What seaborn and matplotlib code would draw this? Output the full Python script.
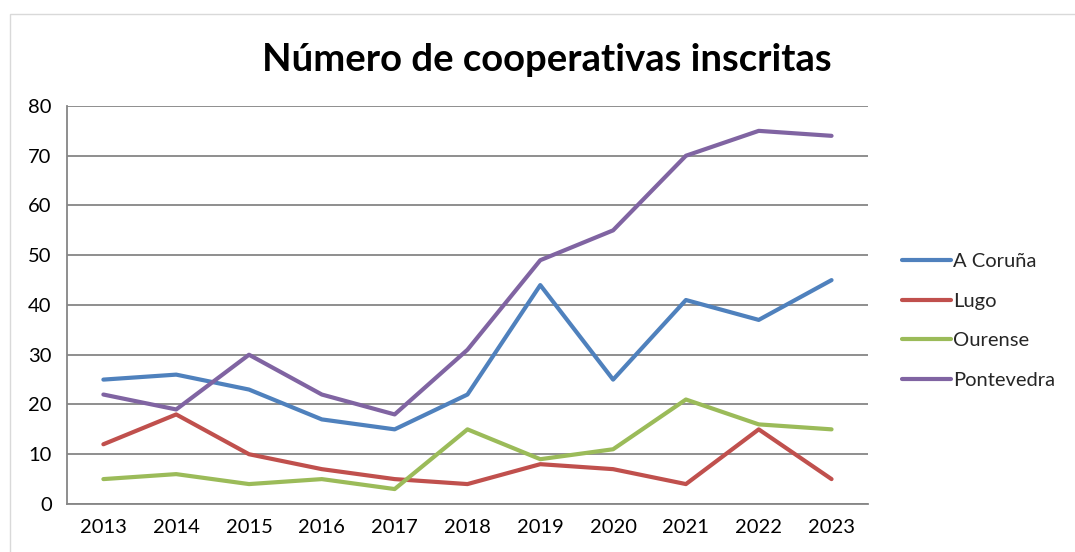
import pandas as pd
import matplotlib.pyplot as plt
import seaborn as sns
from matplotlib.patches import Rectangle

years = ["2013", "2014", "2015", "2016", "2017", "2018", "2019", "2020", "2021", "2022", "2023"]
a_coruna = [25, 26, 23, 17, 15, 22, 44, 25, 41, 37, 45]
lugo = [12, 18, 10, 7, 5, 4, 8, 7, 4, 15, 5]
ourense = [5, 6, 4, 5, 3, 15, 9, 11, 21, 16, 15]
pontevedra = [22, 19, 30, 22, 18, 31, 49, 55, 70, 75, 74]
provinces = ["A Coruña", "Lugo", "Ourense", "Pontevedra"]
colors = ["#4F81BD", "#C0504D", "#9BBB59", "#8064A2"]

df = pd.DataFrame({
    "year": years * 4,
    "value": a_coruna + lugo + ourense + pontevedra,
    "province": [p for p in provinces for _ in years],
})

sns.set_style("white")
plt.rcParams["font.family"] = ["Lato", "DejaVu Sans"]

fig = plt.figure(figsize=(10.75, 5.52), dpi=100)
ax = fig.add_axes([0.0623, 0.087, 0.7451, 0.721])

sns.lineplot(data=df, x="year", y="value", hue="province", palette=colors,
             linewidth=3, ax=ax, sort=False)

ax.set_xlim(-0.5, len(years) - 0.5)
ax.set_ylim(0, 80)
ax.set_yticks(range(0, 81, 10))
ax.yaxis.grid(True, color="#868686", linewidth=1.3)
ax.set_axisbelow(True)
for side in ["top", "right"]:
    ax.spines[side].set_visible(False)
for side in ["left", "bottom"]:
    ax.spines[side].set_color("#868686")
    ax.spines[side].set_linewidth(1.3)
ax.tick_params(axis="both", length=0, labelsize=14.5, pad=11, colors="#000000")
ax.set_xlabel("")
ax.set_ylabel("")

fig.suptitle("Número de cooperativas inscritas", x=0.509, y=0.922,
             fontsize=27.5, fontweight="bold", color="#000000")

ax.legend(loc="center left", bbox_to_anchor=(1.028, 0.46), frameon=False,
          fontsize=14.5, handlelength=2.4, handletextpad=0.1, labelspacing=1.12,
          borderaxespad=0.2)

fig.patches.append(Rectangle((0.0093, -0.01), 1.0, 0.985, transform=fig.transFigure,
                             fill=False, edgecolor="#D9D9D9", linewidth=1))

fig.savefig("out.png", dpi=100)
plt.close(fig)
